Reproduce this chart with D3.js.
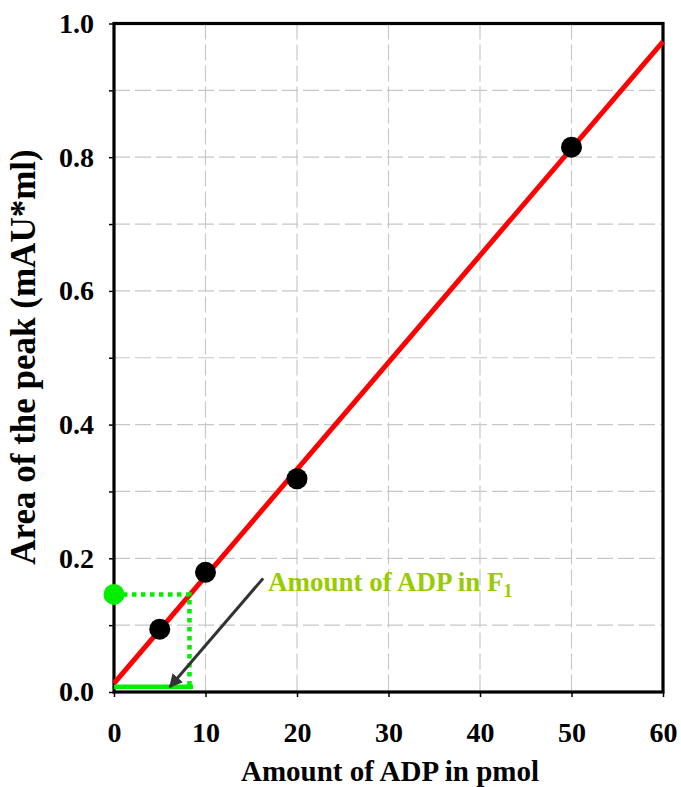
<!DOCTYPE html>
<html>
<head>
<meta charset="utf-8">
<script src="https://cdn.jsdelivr.net/npm/d3@7"></script>
<style>
  html, body { margin: 0; padding: 0; background: #ffffff; }
  svg { display: block; }
  text { font-family: "Liberation Serif", "Times New Roman", serif; font-weight: bold; }
</style>
</head>
<body>
<svg id="chart" width="681" height="787"></svg>
<script>
// Calibration standards: amount of ADP (pmol) vs. peak area (mAU*ml)
const amountPmol = [5, 10, 20, 50];
const peakArea   = [0.094, 0.179, 0.319, 0.815];

// Linear fit drawn across the full x range
const fitX = [0, 60];
const fitY = [0.013, 0.973];

// Sample F1: measured peak area read back through the calibration line
const sampleArea = 0.146;
const sampleAmount = 8.25;
const baselineY = 0.008;

// Arrow pointing to the amount of ADP found in F1 (data coords: start, end)
const arrowX = [16.3, 6.1];
const arrowY = [0.17, 0.0075];

const xTicks = [0, 10, 20, 30, 40, 50, 60];
const yTicks = [0, 0.1, 0.2, 0.3, 0.4, 0.5, 0.6, 0.7, 0.8, 0.9, 1.0];
const yLabelTicks = [0, 0.2, 0.4, 0.6, 0.8, 1.0];

const xTitle = "Amount of ADP in pmol";
const yTitle = "Area of the peak (mAU*ml)";
const noteText = "Amount of ADP in F";
const noteSub = "1";

const svg = d3.select("#chart");
const L = 114, R = 663, T = 23.5, B = 692;

const x = d3.scaleLinear().domain([0, 60]).range([L, R]);
const y = d3.scaleLinear().domain([0, 1]).range([B, T]);

// dashed grid
const grid = svg.append("g")
  .attr("stroke", "#c8c8c8").attr("stroke-width", 1.2)
  .attr("stroke-dasharray", "16,5");
grid.selectAll("line.gy").data(yTicks.filter(d => d > 0 && d < 1))
  .join("line").attr("class", "gy")
  .attr("x1", L).attr("x2", R).attr("y1", d => y(d)).attr("y2", d => y(d));
grid.selectAll("line.gx").data(xTicks.filter(d => d > 0 && d < 60))
  .join("line").attr("class", "gx")
  .attr("y1", T).attr("y2", B).attr("x1", d => x(d)).attr("x2", d => x(d));

// axes
const yAxis = d3.axisLeft(y).tickValues(yTicks).tickSize(5)
  .tickFormat(d => yLabelTicks.some(v => Math.abs(v - d) < 1e-9) ? d3.format(".1f")(d) : "")
  .tickPadding(15);
const gy = svg.append("g").attr("transform", `translate(${L},0)`).call(yAxis);
gy.select(".domain").remove();
gy.selectAll(".tick line").attr("stroke", "#000").attr("stroke-width", 1.5);
gy.selectAll(".tick text").attr("font-size", 28).attr("fill", "#000")
  .attr("font-family", "Liberation Serif, Times New Roman, serif").attr("font-weight", "bold");

const xAxis = d3.axisBottom(x).tickValues(xTicks).tickSize(5).tickFormat(d3.format("d")).tickPadding(25);
const gx = svg.append("g").attr("transform", `translate(0,${B})`).call(xAxis);
gx.select(".domain").remove();
gx.selectAll(".tick line").attr("stroke", "#000").attr("stroke-width", 1.5);
gx.selectAll(".tick text").attr("font-size", 28).attr("fill", "#000")
  .attr("font-family", "Liberation Serif, Times New Roman, serif").attr("font-weight", "bold");

// plot frame
svg.append("rect").attr("x", L).attr("y", T).attr("width", R - L).attr("height", B - T)
  .attr("fill", "none").attr("stroke", "#000").attr("stroke-width", 3.2);

// fit line
const line = d3.line().x(d => x(d[0])).y(d => y(d[1]));
svg.append("path").datum(fitX.map((v, i) => [v, fitY[i]]))
  .attr("d", line).attr("fill", "none").attr("stroke", "#ff0000").attr("stroke-width", 5);

// calibration points
svg.selectAll("circle.pt").data(amountPmol.map((v, i) => [v, peakArea[i]]))
  .join("circle").attr("class", "pt")
  .attr("cx", d => x(d[0])).attr("cy", d => y(d[1])).attr("r", 10.5).attr("fill", "#000");

// F1 read-back: dotted guides, baseline and marker
const green = "#00ee00";
svg.append("path").datum([[0, sampleArea], [sampleAmount, sampleArea], [sampleAmount, baselineY]])
  .attr("d", line).attr("fill", "none").attr("stroke", green).attr("stroke-width", 4.5)
  .attr("stroke-dasharray", "4.5,4.5");
svg.append("path").datum([[0, baselineY], [sampleAmount + 0.4, baselineY]])
  .attr("d", line).attr("fill", "none").attr("stroke", green).attr("stroke-width", 4.5);
svg.append("circle").attr("cx", x(0)).attr("cy", y(sampleArea)).attr("r", 10.5).attr("fill", green);

// arrow
const defs = svg.append("defs");
defs.append("marker").attr("id", "ah").attr("viewBox", "0 0 10 10")
  .attr("refX", 9).attr("refY", 5).attr("markerWidth", 4.5).attr("markerHeight", 4.5)
  .attr("orient", "auto").attr("markerUnits", "strokeWidth")
  .append("path").attr("d", "M0,0 L10,5 L0,10 Z").attr("fill", "#333");
svg.append("line")
  .attr("x1", x(arrowX[0])).attr("y1", y(arrowY[0]))
  .attr("x2", x(arrowX[1])).attr("y2", y(arrowY[1]))
  .attr("stroke", "#333").attr("stroke-width", 3).attr("marker-end", "url(#ah)");

// annotation
const note = svg.append("text").attr("x", 268).attr("y", 591)
  .attr("font-size", 27).attr("fill", "#99cc00");
note.append("tspan").text(noteText);
note.append("tspan").attr("font-size", 18).attr("dy", 6).text(noteSub);

// axis titles
svg.append("text").attr("x", 390).attr("y", 781).attr("text-anchor", "middle")
  .attr("font-size", 29).attr("fill", "#000").text(xTitle);
svg.append("text").attr("transform", `translate(35,357) rotate(-90)`)
  .attr("text-anchor", "middle").attr("font-size", 35).attr("fill", "#000").text(yTitle);
</script>
</body>
</html>
